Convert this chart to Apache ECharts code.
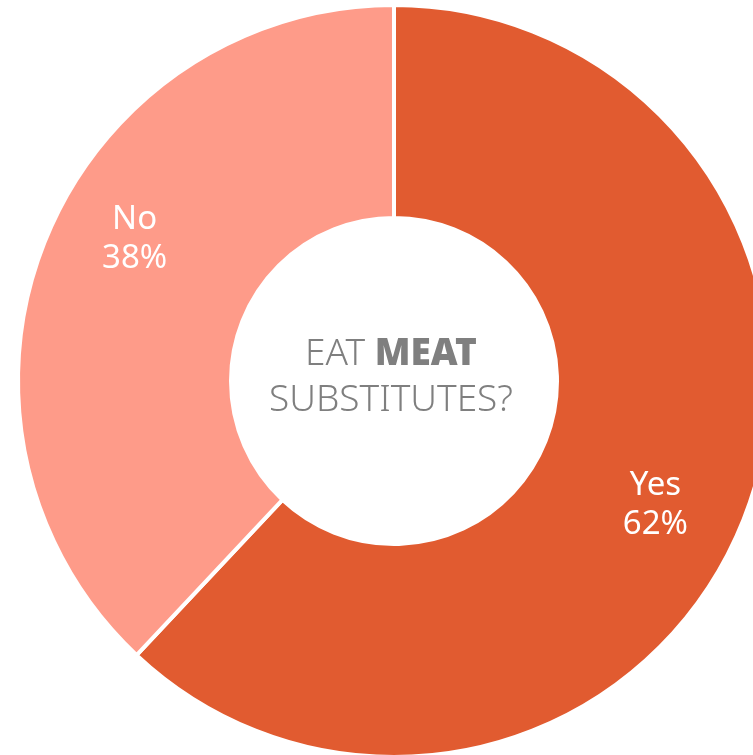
<!DOCTYPE html>
<html>
<head>
<meta charset="utf-8">
<script src="https://cdn.jsdelivr.net/npm/echarts@6/dist/echarts.min.js"></script>
<style>
  html, body { margin: 0; padding: 0; background: #ffffff; }
  #chart { width: 753px; height: 755px; }
</style>
</head>
<body>
<div id="chart"></div>
<script>
// Survey answers: do respondents eat meat substitutes?
const answers = ['Yes', 'No'];
const shares = [62, 38];
const sliceColors = ['#E15B30', '#FE9B89'];

// Nudges for the in-slice labels (pixels)
const labelNudge = [[8, 24], [-6, -42]];

const chart = echarts.init(document.getElementById('chart'), null, { renderer: 'canvas' });

chart.setOption({
  animation: false,
  backgroundColor: '#ffffff',
  graphic: [{
    type: 'text',
    z: 100,
    x: 391,
    y: 377,
    style: {
      text: '{l|EAT }{b|MEAT}\n{l|SUBSTITUTES?}',
      align: 'center',
      verticalAlign: 'middle',
      rich: {
        l: { fontFamily: 'Noto Sans', fontWeight: 300, fontSize: 37, fill: '#7f7f7f', lineHeight: 46 },
        b: { fontFamily: 'Noto Sans', fontWeight: 900, fontSize: 37, fill: '#7f7f7f', lineHeight: 46 }
      }
    }
  }],
  series: [{
    type: 'pie',
    center: [394, 381],
    radius: [163, 376],
    startAngle: 90,
    clockwise: true,
    avoidLabelOverlap: false,
    itemStyle: { borderColor: '#ffffff', borderWidth: 4 },
    label: {
      show: true,
      position: 'inside',
      formatter: '{b}\n{d}%',
      color: '#ffffff',
      fontFamily: 'Noto Sans',
      fontSize: 33,
      lineHeight: 39
    },
    labelLine: { show: false },
    labelLayout: function (params) {
      const n = labelNudge[params.dataIndex];
      return { dx: n[0], dy: n[1] };
    },
    emphasis: { disabled: true },
    data: answers.map((name, i) => ({
      name: name,
      value: shares[i],
      itemStyle: { color: sliceColors[i] }
    }))
  }]
});
</script>
</body>
</html>
